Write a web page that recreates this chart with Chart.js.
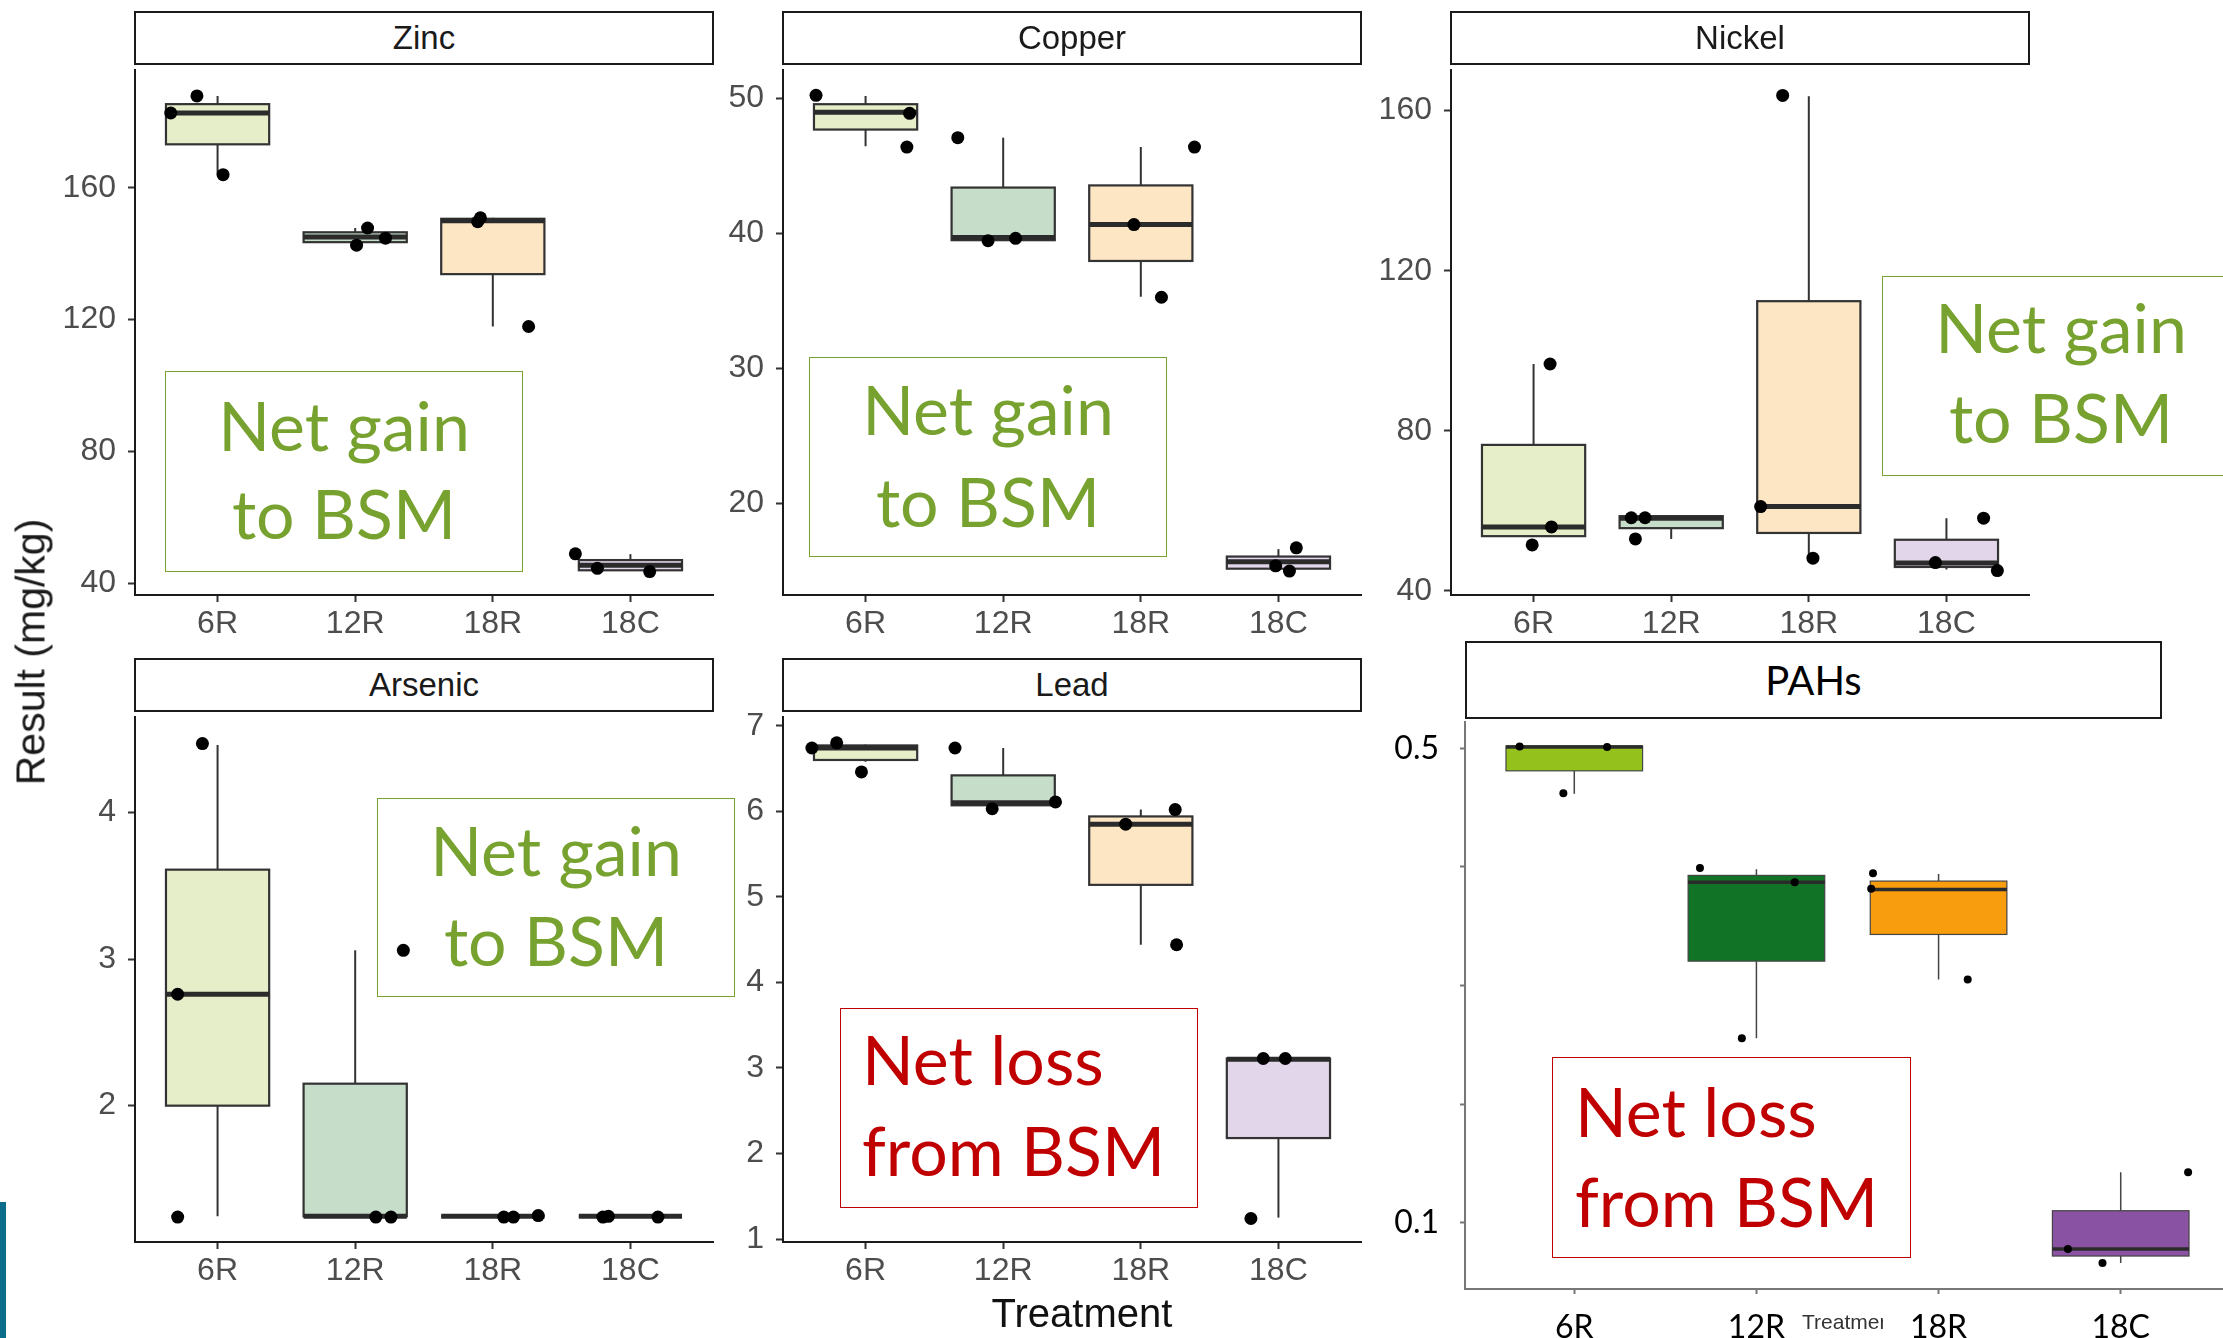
<!DOCTYPE html>
<html>
<head>
<meta charset="utf-8">
<script src="https://cdn.jsdelivr.net/npm/chart.js@4.4.1/dist/chart.umd.min.js"></script>
<style>
  body { margin: 0; width: 2223px; height: 1338px; overflow: hidden; background: #fff; position: relative; }
  canvas { position: absolute; }
  .strip { position: absolute; box-sizing: border-box; border: 2px solid #1a1a1a; background: #fff;
           display: flex; align-items: center; justify-content: center;
           font-family: 'Liberation Sans', Arial, sans-serif; font-size: 33px; color: #1a1a1a; }
  .frame { position: absolute; box-sizing: border-box; border: 2px solid; }
  .txt { position: absolute; white-space: nowrap; font-family: Lato, sans-serif; }
</style>
</head>
<body>
<script>
const treatments = ["6R", "12R", "18R", "18C"];

// boxes per treatment: [whisker low, Q1, median, Q3, whisker high]
const zincBox = [[164.0, 173.2, 182.7, 185.4, 187.9], [143.5, 143.5, 145.1, 146.5, 147.8], [117.9, 133.8, 150.0, 150.6, 150.9], [43.9, 43.9, 45.4, 47.0, 48.8]];
const zincPts = [[187.9, 182.7, 164.0], [147.8, 142.6, 144.7], [150.9, 149.7, 117.9], [48.9, 44.5, 43.5]];
const zincJit = [[-0.15, -0.34, 0.04], [0.09, 0.01, 0.22], [-0.09, -0.11, 0.26], [-0.40, -0.24, 0.14]];
const zincTicks = [40, 80, 120, 160];

const copperBox = [[46.47, 47.7, 48.98, 49.58, 50.18], [39.5, 39.5, 39.7, 43.4, 47.1], [35.3, 37.96, 40.66, 43.56, 46.4], [15.15, 15.15, 15.66, 16.05, 16.6]];
const copperPts = [[50.24, 48.9, 46.4], [47.1, 39.46, 39.64], [40.66, 46.4, 35.27], [16.7, 15.36, 14.97]];
const copperJit = [[-0.36, 0.32, 0.30], [-0.33, -0.11, 0.09], [-0.05, 0.39, 0.15], [0.13, -0.02, 0.08]];
const copperTicks = [20, 30, 40, 50];

const nickelBox = [[53.7, 53.7, 56.0, 76.5, 96.7], [53.0, 55.7, 58.2, 58.7, 58.7], [48.2, 54.5, 61.1, 112.4, 163.6], [45.4, 46.0, 47.0, 52.8, 58.2]];
const nickelPts = [[96.7, 56.0, 51.5], [58.3, 58.3, 53.0], [163.8, 61.1, 48.2], [58.2, 47.1, 45.1]];
const nickelJit = [[0.12, 0.13, -0.01], [-0.29, -0.19, -0.26], [-0.19, -0.35, 0.03], [0.27, -0.08, 0.37]];
const nickelTicks = [40, 80, 120, 160];

const arsenicBox = [[1.245, 2.0, 2.76, 3.61, 4.46], [1.245, 1.245, 1.245, 2.15, 3.06], [1.245, 1.245, 1.245, 1.245, 1.245], [1.245, 1.245, 1.245, 1.245, 1.245]];
const arsenicPts = [[4.47, 2.76, 1.24], [3.06, 1.24, 1.24], [1.24, 1.24, 1.25], [1.24, 1.245, 1.24]];
const arsenicJit = [[-0.11, -0.29, -0.29], [0.35, 0.15, 0.26], [0.08, 0.15, 0.33], [-0.20, -0.16, 0.20]];
const arsenicTicks = [2, 3, 4];

const leadBox = [[6.58, 6.60, 6.74, 6.77, 6.78], [6.07, 6.07, 6.10, 6.42, 6.74], [4.44, 5.14, 5.85, 5.94, 6.02], [1.25, 2.18, 3.10, 3.11, 3.11]];
const leadPts = [[6.74, 6.80, 6.46], [6.74, 6.03, 6.11], [5.85, 6.02, 4.44], [3.11, 3.11, 1.24]];
const leadJit = [[-0.39, -0.21, -0.03], [-0.35, -0.08, 0.38], [-0.11, 0.25, 0.26], [-0.11, 0.05, -0.20]];
const leadTicks = [1, 2, 3, 4, 5, 6, 7];

const pahBox = [[0.4616, 0.481, 0.501, 0.502, 0.502], [0.2554, 0.3205, 0.387, 0.3928, 0.398], [0.305, 0.343, 0.381, 0.388, 0.394], [0.066, 0.0718, 0.0778, 0.110, 0.1425]];
const pahPts = [[0.5015, 0.501, 0.462], [0.399, 0.387, 0.2554], [0.3946, 0.3815, 0.305], [0.1425, 0.0778, 0.066]];
const pahJit = [[-0.30, 0.18, -0.06], [-0.31, 0.21, -0.08], [-0.36, -0.37, 0.16], [0.37, -0.29, -0.10]];
const pahTicks = [0.1, 0.2, 0.3, 0.4, 0.5];
const pahTickLabels = ["0.1", "", "", "", "0.5"];

const paleFills = ["#e5eec8", "#c5ddc9", "#fde6c4", "#e2d6ea"];
const pahFills = ["#95c11c", "#117326", "#f89d0e", "#8a52a2"];

const ggLook = {
  r: 6.5, line: "#333333", lineWidth: 2, medianWidth: 5, boxBorder: 2.2,
  tickColor: "#4d4d4d", font: { family: "'Liberation Sans', Arial, sans-serif", size: 32 },
  axis: "#1a1a1a", axisWidth: 2, tickMark: "#333333", tickLen: 7,
  xPad: 3, yPad: 12, fills: paleFills
};
const pahLook = {
  r: 4, line: "#444444", lineWidth: 1.5, medianWidth: 3.5, boxBorder: 1.2,
  tickColor: "#000", font: { family: "Lato, sans-serif", size: 32 },
  axis: "#777777", axisWidth: 2, tickMark: "#777777", tickLen: 5,
  xPad: 14, yPad: 21, fills: pahFills
};

function makeBoxPlugin(boxes, look) {
  return {
    id: "boxplot",
    beforeDatasetsDraw(chart) {
      const ctx = chart.ctx;
      const x = chart.scales.x, y = chart.scales.y;
      const half = x.getPixelForValue(1.375) - x.getPixelForValue(1);
      boxes.forEach((b, i) => {
        const cx = x.getPixelForValue(i + 1);
        const [lo, q1, med, q3, hi] = b.map(v => y.getPixelForValue(v));
        ctx.save();
        ctx.strokeStyle = look.line;
        ctx.lineWidth = look.lineWidth;
        ctx.beginPath();
        ctx.moveTo(cx, hi); ctx.lineTo(cx, q3);
        ctx.moveTo(cx, q1); ctx.lineTo(cx, lo);
        ctx.stroke();
        ctx.fillStyle = look.fills[i];
        ctx.fillRect(cx - half, q3, 2 * half, q1 - q3);
        ctx.lineWidth = look.boxBorder;
        ctx.strokeRect(cx - half, q3, 2 * half, q1 - q3);
        ctx.lineWidth = look.medianWidth;
        ctx.strokeStyle = "#2b2b2b";
        ctx.beginPath();
        ctx.moveTo(cx - half, med); ctx.lineTo(cx + half, med);
        ctx.stroke();
        ctx.restore();
      });
    }
  };
}

function panel(area, yMin, yMax, yTicks, yLabels, boxes, pts, jit, look) {
  const cv = document.createElement("canvas");
  const W = area.R - area.L + 105, H = area.B - area.T + 85;
  cv.width = W; cv.height = H;
  cv.style.left = (area.L - 95) + "px";
  cv.style.top = (area.T - 25) + "px";
  document.body.appendChild(cv);

  const points = [];
  pts.forEach((vals, i) => vals.forEach((v, j) => points.push({ x: i + 1 + jit[i][j], y: v })));

  new Chart(cv, {
    type: "scatter",
    data: {
      datasets: [{
        data: points, pointRadius: look.r, pointHoverRadius: look.r,
        backgroundColor: "#000", borderWidth: 0, clip: false
      }]
    },
    options: {
      responsive: false, animation: false, events: [],
      layout: { padding: { top: 25, right: 10, bottom: 0, left: 0 } },
      plugins: { legend: { display: false }, tooltip: { enabled: false } },
      scales: {
        x: {
          type: "linear", min: 0.4, max: 4.6,
          afterBuildTicks: s => { s.ticks = treatments.map((t, i) => ({ value: i + 1 })); },
          afterFit: s => { s.height = 60; },
          ticks: { autoSkip: false, maxRotation: 0, callback: (v, i) => treatments[i],
                   color: look.tickColor, font: look.font, padding: look.xPad },
          grid: { drawOnChartArea: false, tickLength: look.tickLen, tickColor: look.tickMark, tickWidth: 2 },
          border: { color: look.axis, width: look.axisWidth }
        },
        y: {
          min: yMin, max: yMax,
          afterBuildTicks: s => { s.ticks = yTicks.map(v => ({ value: v })); },
          afterFit: s => { s.width = 95; },
          ticks: { autoSkip: false, callback: (v, i) => yLabels[i],
                   color: look.tickColor, font: look.font, padding: look.yPad },
          grid: { drawOnChartArea: false, tickLength: look.tickLen, tickColor: look.tickMark, tickWidth: 2 },
          border: { color: look.axis, width: look.axisWidth }
        }
      }
    },
    plugins: [makeBoxPlugin(boxes, look)]
  });
}

function strip(L, T, R, B, text, extra) {
  const d = document.createElement("div");
  d.className = "strip";
  d.style.cssText = `left:${L}px;top:${T}px;width:${R - L}px;height:${B - T}px;` + (extra || "");
  d.textContent = text;
  document.body.appendChild(d);
}

// annotation box with two text lines placed by baseline
function note(L, T, R, B, color, lines, baselines, textX) {
  const f = document.createElement("div");
  f.className = "frame";
  f.style.cssText = `left:${L}px;top:${T}px;width:${R - L}px;height:${B - T}px;border-color:${color};border-width:1.5px;`;
  document.body.appendChild(f);
  const fs = 68, lh = 88;
  const off = (lh - 1.2 * fs) / 2 + 0.987 * fs;
  lines.forEach((t, i) => {
    const d = document.createElement("div");
    d.className = "txt";
    d.style.cssText = `font-size:${fs}px;line-height:${lh}px;color:${color};top:${baselines[i] - off}px;` +
      (textX == null ? `left:${L}px;width:${R - L}px;text-align:center;` : `left:${textX}px;`);
    d.textContent = t;
    document.body.appendChild(d);
  });
}

function label(text, css) {
  const d = document.createElement("div");
  d.style.cssText = "position:absolute;white-space:nowrap;" + css;
  d.textContent = text;
  document.body.appendChild(d);
}

const ids = v => v.map(String);

panel({ L: 135, T: 64, R: 713, B: 595 }, 36.4, 195.7, zincTicks, ids(zincTicks), zincBox, zincPts, zincJit, ggLook);
panel({ L: 783, T: 64, R: 1361, B: 595 }, 13.2, 52.1, copperTicks, ids(copperTicks), copperBox, copperPts, copperJit, ggLook);
panel({ L: 1451, T: 64, R: 2029, B: 595 }, 39.0, 170.1, nickelTicks, ids(nickelTicks), nickelBox, nickelPts, nickelJit, ggLook);
panel({ L: 135, T: 711, R: 713, B: 1242 }, 1.07, 4.65, arsenicTicks, ids(arsenicTicks), arsenicBox, arsenicPts, arsenicJit, ggLook);
panel({ L: 783, T: 711, R: 1361, B: 1242 }, 0.965, 7.1, leadTicks, ids(leadTicks), leadBox, leadPts, leadJit, ggLook);
panel({ L: 1465, T: 707, R: 2230, B: 1289 }, 0.044, 0.522, pahTicks, pahTickLabels, pahBox, pahPts, pahJit, pahLook);

strip(134, 11, 714, 65, "Zinc");
strip(782, 11, 1362, 65, "Copper");
strip(1450, 11, 2030, 65, "Nickel");
strip(134, 658, 714, 712, "Arsenic");
strip(782, 658, 1362, 712, "Lead");
strip(1465, 641, 2162, 719, "PAHs", "font-family:Lato,sans-serif;font-size:40px;color:#000;");

const green = "#77a22f", red = "#c00000";
note(165, 371, 523, 572, green, ["Net gain", "to BSM"], [451, 539]);
note(809, 357, 1167, 557, green, ["Net gain", "to BSM"], [435, 527]);
note(1882, 276, 2240, 476, green, ["Net gain", "to BSM"], [353, 443]);
note(377, 798, 735, 997, green, ["Net gain", "to BSM"], [876, 966]);
note(840, 1008, 1198, 1208, red, ["Net loss", "from BSM"], [1085, 1176], 862);
note(1552, 1057, 1911, 1258, red, ["Net loss", "from BSM"], [1137, 1227], 1575);

label("Result (mg/kg)", "left:31px;top:652px;transform:translate(-50%,-50%) rotate(-90deg);font-family:'Liberation Sans',Arial,sans-serif;font-size:41px;color:#1a1a1a;");
label("Treatment", "left:1082px;top:1313px;transform:translate(-50%,-50%);font-family:'Liberation Sans',Arial,sans-serif;font-size:40px;color:#111;");
label("Treatment", "left:1802px;top:1310px;width:81px;overflow:hidden;font-family:'Liberation Sans',Arial,sans-serif;font-size:21px;color:#333;");
label("", "left:0;top:1202px;width:6px;height:136px;background:#0c6d8b;");
</script>
</body>
</html>
